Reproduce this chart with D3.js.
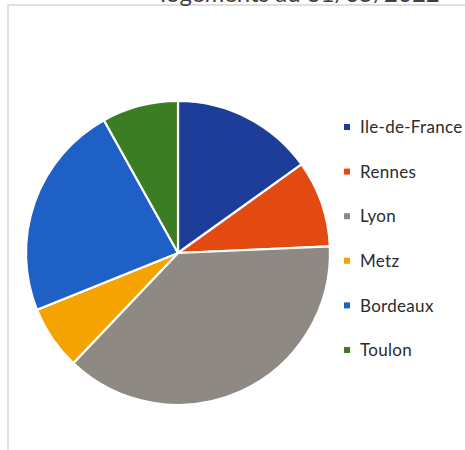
<!DOCTYPE html>
<html>
<head>
<meta charset="utf-8">
<script src="https://cdn.jsdelivr.net/npm/d3@7"></script>
<style>
  html, body { margin: 0; padding: 0; background: #ffffff; }
  svg { display: block; }
</style>
</head>
<body>
<svg id="chart" width="465" height="450"></svg>
<script>
// Share of housing units per site (percent)
const categories = ["Ile-de-France", "Rennes", "Lyon", "Metz", "Bordeaux", "Toulon"];
const values = [15.1, 9.2, 37.8, 6.8, 23.0, 8.1];
const colors = ["#1c3d98", "#e24a12", "#8e8a83", "#f5a300", "#1e60c6", "#3a7d22"];
const titleText = "logements  au 31/05/2022";

const svg = d3.select("#chart");
const W = 465, H = 450;

// Chart frame: only its top and left edges fall inside the view
svg.append("rect")
  .attr("x", 8).attr("y", 5)
  .attr("width", W + 20).attr("height", H + 20)
  .attr("fill", "#ffffff")
  .attr("stroke", "#d6d6d6")
  .attr("stroke-width", 1.5);

// Title sits above the frame, so only its lowest strip shows
svg.append("text")
  .attr("x", 300).attr("y", 2)
  .attr("text-anchor", "middle")
  .attr("font-family", "Lato, 'Open Sans', sans-serif")
  .attr("font-size", 24)
  .attr("fill", "#404040")
  .text(titleText);

const cx = 178, cy = 253, r = 152;

const pie = d3.pie().value(d => d).sort(null);
const arc = d3.arc().innerRadius(0).outerRadius(r);
const color = d3.scaleOrdinal().domain(categories).range(colors);

const g = svg.append("g").attr("transform", `translate(${cx},${cy})`);
g.selectAll("path")
  .data(pie(values))
  .join("path")
  .attr("d", arc)
  .attr("fill", (d, i) => color(categories[i]))
  .attr("stroke", "#ffffff")
  .attr("stroke-width", 2.2)
  .attr("stroke-linejoin", "round");

// Legend
const legendY = d3.scalePoint().domain(categories).range([127, 350]);
const lg = svg.append("g");
const items = lg.selectAll("g")
  .data(categories)
  .join("g")
  .attr("transform", d => `translate(0,${legendY(d)})`);
items.append("rect")
  .attr("x", 344).attr("y", -3)
  .attr("width", 6).attr("height", 6)
  .attr("fill", d => color(d));
items.append("text")
  .attr("x", 360).attr("y", 0)
  .attr("dy", "0.36em")
  .attr("font-family", "Lato, 'Open Sans', sans-serif")
  .attr("font-size", 17)
  .attr("letter-spacing", 0.3)
  .attr("fill", "#2b2b2b")
  .text(d => d);
</script>
</body>
</html>
